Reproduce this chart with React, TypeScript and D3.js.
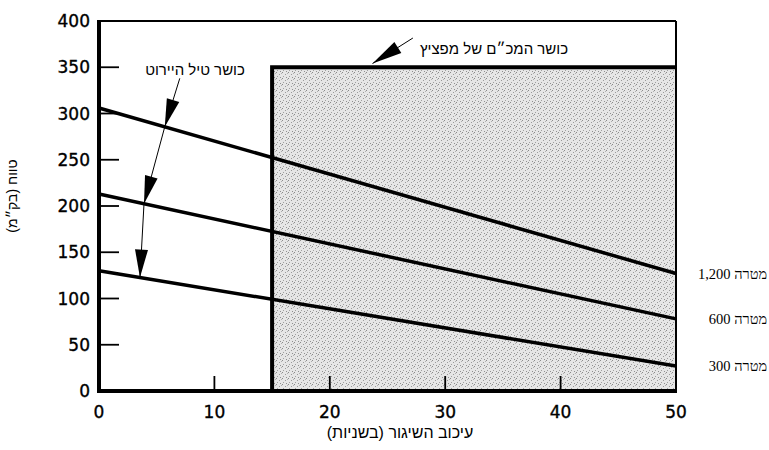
import React from "react";
import * as d3 from "d3";

// ---- data ----
const launchDelay = [0, 50]; // seconds
const seriesNames = ["מטרה 1,200", "מטרה 600", "מטרה 300"];
const range1200 = [306, 127];
const range600 = [213, 78];
const range300 = [130, 27];
const seriesValues = [range1200, range600, range300];
const radarStartDelay = 15;
const radarMaxRange = 350;
const yTicks = [0, 50, 100, 150, 200, 250, 300, 350, 400];
const xTicks = [0, 10, 20, 30, 40, 50];
const xTitle = "עיכוב השיגור (בשניות)";
const yTitle = "טווח (בק״מ)";
const interceptorLabel = "כושר טיל היירוט";
const radarLabel = "כושר המכ״ם של מפציץ";
// arrow tips of the interceptor annotation (delay on each series)
const interceptorTipDelays = [5.7, 3.9, 3.55];
const interceptorStart = [7.0, 338];
const radarArrow = [[27.2, 381.6], [23.7, 354]];

const W = 769, H = 450;
const L = 99, R = 676, T = 21, B = 391;

export default function App() {
  const x = d3.scaleLinear().domain([0, 50]).range([L, R]);
  const y = d3.scaleLinear().domain([0, 400]).range([B, T]);
  const line = d3.line<[number, number]>().x(d => x(d[0])).y(d => y(d[1]));

  const valAt = (s: number[], d: number) => s[0] + (s[1] - s[0]) * (d - launchDelay[0]) / (launchDelay[1] - launchDelay[0]);

  const tips = interceptorTipDelays.map((d, i) => [x(d), y(valAt(seriesValues[i], d))]);
  const startPt = [x(interceptorStart[0]), y(interceptorStart[1])];
  const chain = [startPt, ...tips];

  const head = (from: number[], to: number[], len: number, wid: number, key: string) => {
    const dx = to[0] - from[0], dy = to[1] - from[1];
    const n = Math.hypot(dx, dy);
    const ux = dx / n, uy = dy / n;
    const bx = to[0] - ux * len, by = to[1] - uy * len;
    const px = -uy * wid / 2, py = ux * wid / 2;
    return <polygon key={key} points={`${to[0]},${to[1]} ${bx + px},${by + py} ${bx - px},${by - py}`} fill="#000" />;
  };

  const rA = radarArrow.map(p => [x(p[0]), y(p[1])]);

  return (
    <svg width={W} height={H} style={{ position: "absolute", left: 0, top: 0, background: "#fff" }}>
      <defs>
        <pattern id="stip" width="6" height="6" patternUnits="userSpaceOnUse">
          <rect width="6" height="6" fill="#e6e6e6" />
          <rect x="0" y="0" width="1" height="1" fill="#8a8a8a" />
          <rect x="3" y="2" width="1" height="1" fill="#9a9a9a" />
          <rect x="1" y="4" width="1" height="1" fill="#a0a0a0" />
          <rect x="4" y="5" width="1" height="1" fill="#909090" />
          <rect x="5" y="1" width="1" height="1" fill="#b0b0b0" />
        </pattern>
      </defs>
      {/* shaded radar region */}
      <rect x={x(radarStartDelay)} y={y(radarMaxRange)} width={x(50) - x(radarStartDelay)} height={y(0) - y(radarMaxRange)} fill="url(#stip)" />
      {/* frame: top and right thin */}
      <line x1={L} x2={R} y1={T} y2={T} stroke="#000" strokeWidth={2} />
      <line x1={R} x2={R} y1={T} y2={B} stroke="#000" strokeWidth={2} />
      {/* y ticks inside */}
      {yTicks.filter(t => t > 0 && t < 400).map(t => (
        <line key={"yt" + t} x1={L} x2={L + 20} y1={y(t)} y2={y(t)} stroke="#000" strokeWidth={1.8} />
      ))}
      {xTicks.filter(t => t > 0 && t < 50).map(t => (
        <line key={"xt" + t} x1={x(t)} x2={x(t)} y1={B} y2={B - 15} stroke="#000" strokeWidth={1.8} />
      ))}
      {/* radar boundary */}
      <path d={`M${x(radarStartDelay)},${B} V${y(radarMaxRange)} H${R}`} fill="none" stroke="#000" strokeWidth={4} />
      {/* series lines */}
      {seriesValues.map((s, i) => (
        <path key={"s" + i} d={line(launchDelay.map((d, j) => [d, s[j]] as [number, number]))!} fill="none" stroke="#000" strokeWidth={3.5} />
      ))}
      {/* axes thick */}
      <line x1={L} x2={L} y1={T - 1} y2={B + 2} stroke="#000" strokeWidth={4} />
      <line x1={L - 2} x2={R + 1} y1={B} y2={B} stroke="#000" strokeWidth={4} />
      {/* tick labels */}
      {yTicks.map(t => (
        <text key={"yl" + t} x={L - 9} y={y(t)} dy="0.36em" textAnchor="end" fontFamily="DejaVu Sans" fontSize={17} stroke="#000" strokeWidth={0.35}>{t}</text>
      ))}
      {xTicks.map(t => (
        <text key={"xl" + t} x={x(t)} y={418} textAnchor="middle" fontFamily="DejaVu Sans" fontSize={17} stroke="#000" strokeWidth={0.35}>{t}</text>
      ))}
      {/* series labels */}
      {seriesValues.map((s, i) => (
        <text key={"sl" + i} x={767} y={y(s[1]) + 5} textAnchor="start" fontFamily="Liberation Serif" fontSize={14.5} direction="rtl">{seriesNames[i]}</text>
      ))}
      {/* axis titles */}
      <text x={400} y={438} textAnchor="middle" fontFamily="Liberation Sans" fontSize={16} direction="rtl">{xTitle}</text>
      <text transform={`translate(17,196) rotate(-90)`} textAnchor="middle" fontFamily="Liberation Sans" fontSize={14} direction="rtl">{yTitle}</text>
      {/* interceptor annotation */}
      <text x={195} y={75} textAnchor="middle" fontFamily="Liberation Sans" fontSize={15} direction="rtl">{interceptorLabel}</text>
      {chain.slice(1).map((p, i) => (
        <line key={"ch" + i} x1={chain[i][0]} y1={chain[i][1]} x2={p[0]} y2={p[1]} stroke="#000" strokeWidth={1} />
      ))}
      {chain.slice(1).map((p, i) => head(chain[i], p, 28, 13, "h" + i))}
      {/* radar annotation */}
      <text x={494} y={54} textAnchor="middle" fontFamily="Liberation Sans" fontSize={15} direction="rtl">{radarLabel}</text>
      <line x1={rA[0][0]} y1={rA[0][1]} x2={rA[1][0]} y2={rA[1][1]} stroke="#000" strokeWidth={1} />
      {head(rA[0], rA[1], 30, 13, "rh")}
    </svg>
  );
}
